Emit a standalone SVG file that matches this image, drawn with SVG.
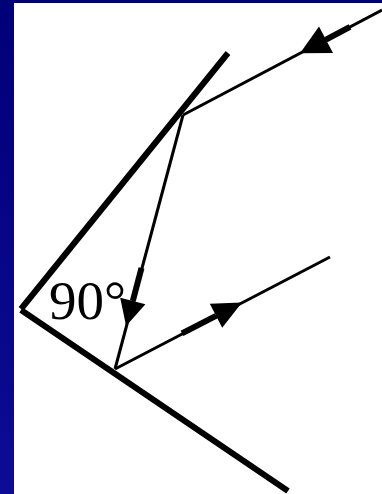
<svg xmlns="http://www.w3.org/2000/svg" width="382" height="494" viewBox="0 0 382 494">
  <defs>
    <linearGradient id="bg" x1="0" y1="0" x2="0" y2="1">
      <stop offset="0" stop-color="#000078"/>
      <stop offset="1" stop-color="#0c0c96"/>
    </linearGradient>
    <style>
      .mirror { stroke: #000; stroke-width: 6; fill: none; stroke-linecap: butt; }
      .ray { stroke: #000; stroke-width: 3; fill: none; }
      .stem { stroke: #000; stroke-width: 6; fill: none; }
      .head { fill: #000; stroke: none; }
      .lbl { font-family: "Liberation Serif", "Times New Roman", serif; font-size: 55px; fill: #000; }
    </style>
  </defs>
  <rect x="0" y="0" width="382" height="494" fill="url(#bg)"/>
  <rect x="14" y="3" width="368" height="491" fill="#fff"/>

  <g id="mirror-upper">
    <line class="mirror" x1="21" y1="309" x2="228" y2="53"/>
  </g>
  <g id="mirror-lower">
    <line class="mirror" x1="21" y1="310" x2="288" y2="491"/>
  </g>
  <g id="angle-label">
    <text class="lbl" x="49" y="319">90°</text>
  </g>

  <g id="connectors">
    <line class="ray" x1="382" y1="10" x2="183" y2="115"/>
    <line class="stem" x1="350" y1="26.9" x2="326" y2="39.6"/>
    <polygon class="head" points="300,53.3 333,52.9 319,26.4"/>

    <line class="ray" x1="183" y1="115" x2="115" y2="369"/>
    <line class="stem" x1="141.5" y1="268" x2="132.8" y2="301"/>
    <polygon class="head" points="126.1,326 145.4,304.3 120.2,297.7"/>

    <line class="ray" x1="115" y1="369" x2="330" y2="257"/>
    <line class="stem" x1="182" y1="333.4" x2="216" y2="315.8"/>
    <polygon class="head" points="242,302.4 222.2,327.8 209.8,303.8"/>
  </g>
</svg>
